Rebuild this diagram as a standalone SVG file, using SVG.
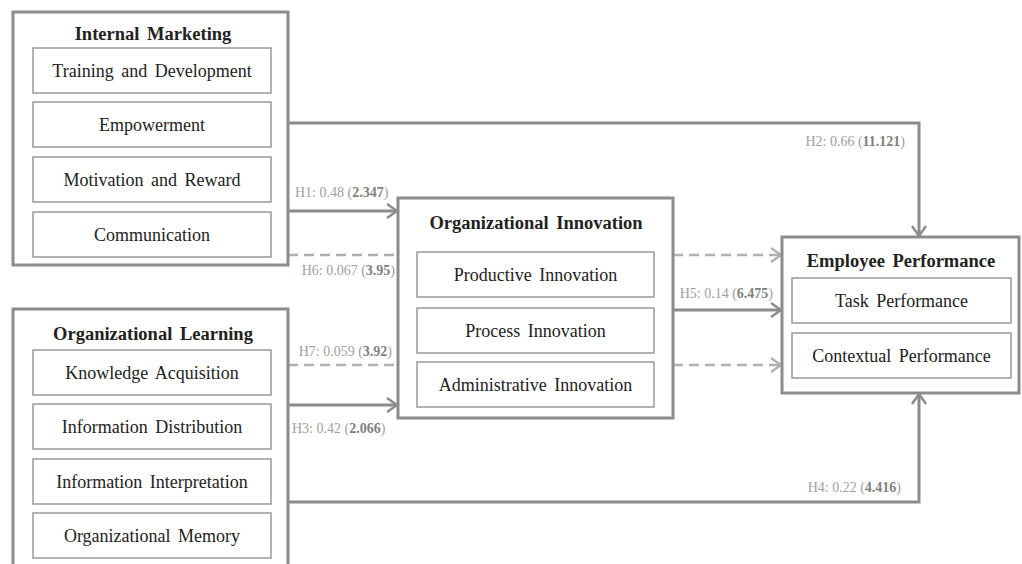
<svg xmlns="http://www.w3.org/2000/svg" width="1022" height="564" viewBox="0 0 1022 564">
<defs>
<style>
.outer{fill:#fff;stroke:#8c8c8c;stroke-width:3}
.inner{fill:#fff;stroke:#999;stroke-width:1.5}
.title{font-family:"Liberation Serif",serif;font-size:18.5px;font-weight:bold;fill:#222;text-anchor:middle;word-spacing:3px}
.item{font-family:"Liberation Serif",serif;font-size:18px;fill:#222;text-anchor:middle;word-spacing:3px}
.lbl{font-family:"Liberation Serif",serif;font-size:14px;fill:#a0a0a0}
.lbl tspan.b{font-weight:bold;fill:#808080}
.solid{fill:none;stroke:#8c8c8c;stroke-width:3}
.dash{fill:none;stroke:#b0b0b0;stroke-width:2.5;stroke-dasharray:10 6}
</style>
<marker id="arr" viewBox="0 0 12 16" refX="11" refY="8" markerWidth="12" markerHeight="16" markerUnits="userSpaceOnUse" orient="auto">
<polyline points="1,1 11,8 1,15" fill="none" stroke="#8c8c8c" stroke-width="2.5"/>
</marker>
<marker id="arrd" viewBox="0 0 12 16" refX="11" refY="8" markerWidth="12" markerHeight="16" markerUnits="userSpaceOnUse" orient="auto">
<polyline points="1,1 11,8 1,15" fill="none" stroke="#b0b0b0" stroke-width="2.2"/>
</marker>
</defs>
<rect width="1022" height="564" fill="#fff"/>

<g id="connectors">
<path class="solid" d="M288,123 H919 V236" marker-end="url(#arr)"/>
<path class="solid" d="M288,211 H397" marker-end="url(#arr)"/>
<path class="dash" d="M288,255 H398"/>
<path class="dash" d="M673,255 H781" marker-end="url(#arrd)"/>
<path class="dash" d="M288,365 H398"/>
<path class="dash" d="M673,365 H781" marker-end="url(#arrd)"/>
<path class="solid" d="M288,405 H397" marker-end="url(#arr)"/>
<path class="solid" d="M673,310 H781" marker-end="url(#arr)"/>
<path class="solid" d="M288,502 H919 V394" marker-end="url(#arr)"/>
<text class="lbl" x="905" y="146" text-anchor="end">H2: 0.66 (<tspan class="b">11.121</tspan>)</text>
<text class="lbl" x="295" y="197">H1: 0.48 (<tspan class="b">2.347</tspan>)</text>
<text class="lbl" x="395" y="275" text-anchor="end">H6: 0.067 (<tspan class="b">3.95</tspan>)</text>
<text class="lbl" x="392" y="356" text-anchor="end">H7: 0.059 (<tspan class="b">3.92</tspan>)</text>
<text class="lbl" x="292" y="433">H3: 0.42 (<tspan class="b">2.066</tspan>)</text>
<text class="lbl" x="773" y="298" text-anchor="end">H5: 0.14 (<tspan class="b">6.475</tspan>)</text>
<text class="lbl" x="901" y="492" text-anchor="end">H4: 0.22 (<tspan class="b">4.416</tspan>)</text>
</g>

<g id="internal-marketing">
<rect class="outer" x="13" y="12" width="275" height="253"/>
<text class="title" x="153" y="40">Internal Marketing</text>
<rect class="inner" x="33" y="48" width="238" height="45"/>
<text class="item" x="152" y="76.5">Training and Development</text>
<rect class="inner" x="33" y="102" width="238" height="45"/>
<text class="item" x="152" y="130.5">Empowerment</text>
<rect class="inner" x="33" y="157" width="238" height="45"/>
<text class="item" x="152" y="185.5">Motivation and Reward</text>
<rect class="inner" x="33" y="212" width="238" height="45"/>
<text class="item" x="152" y="240.5">Communication</text>
</g>

<g id="organizational-learning">
<rect class="outer" x="13" y="309" width="275" height="270"/>
<text class="title" x="153" y="340">Organizational Learning</text>
<rect class="inner" x="33" y="350" width="238" height="45"/>
<text class="item" x="152" y="378.5">Knowledge Acquisition</text>
<rect class="inner" x="33" y="404" width="238" height="45"/>
<text class="item" x="152" y="432.5">Information Distribution</text>
<rect class="inner" x="33" y="459" width="238" height="45"/>
<text class="item" x="152" y="487.5">Information Interpretation</text>
<rect class="inner" x="33" y="513" width="238" height="45"/>
<text class="item" x="152" y="541.5">Organizational Memory</text>
</g>

<g id="organizational-innovation">
<rect class="outer" x="398" y="198" width="275" height="220"/>
<text class="title" x="536" y="229">Organizational Innovation</text>
<rect class="inner" x="417" y="252" width="237" height="45"/>
<text class="item" x="535.5" y="280.5">Productive Innovation</text>
<rect class="inner" x="417" y="308" width="237" height="45"/>
<text class="item" x="535.5" y="336.5">Process Innovation</text>
<rect class="inner" x="417" y="362" width="237" height="45"/>
<text class="item" x="535.5" y="390.5">Administrative Innovation</text>
</g>

<g id="employee-performance">
<rect class="outer" x="782" y="237" width="237" height="156"/>
<text class="title" x="901" y="267">Employee Performance</text>
<rect class="inner" x="792" y="278" width="219" height="45"/>
<text class="item" x="901.5" y="306.5">Task Performance</text>
<rect class="inner" x="792" y="333" width="219" height="45"/>
<text class="item" x="901.5" y="361.5">Contextual Performance</text>
</g>
</svg>
